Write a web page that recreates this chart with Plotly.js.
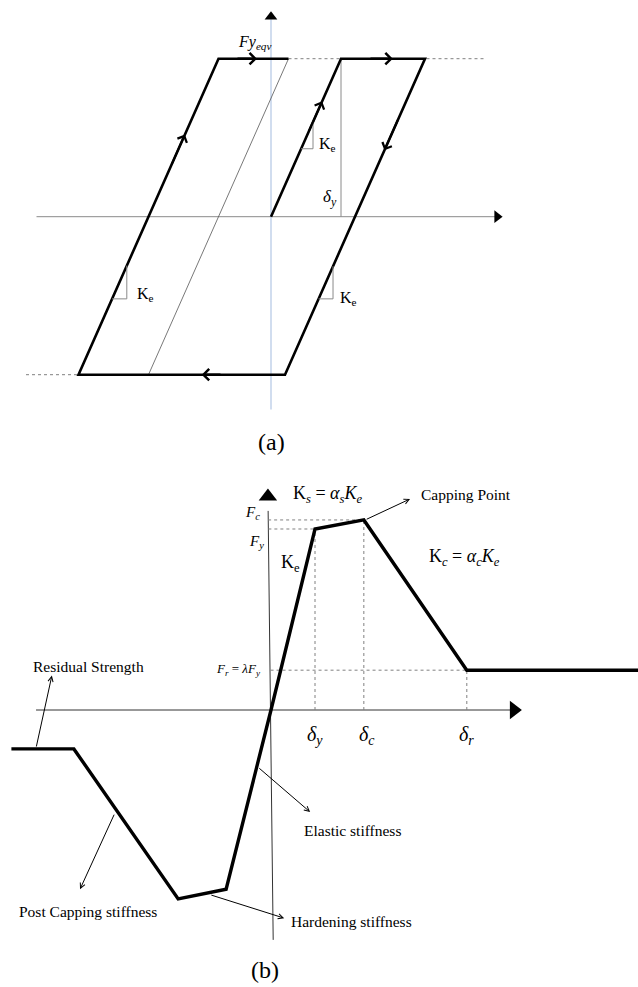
<!DOCTYPE html>
<html>
<head>
<meta charset="utf-8">
<script src="https://cdn.plot.ly/plotly-3.0.1.min.js"></script>
<style>
  html, body { margin: 0; padding: 0; background: #fff; }
  #chart { width: 638px; height: 987px; }
</style>
</head>
<body>
<div id="chart"></div>
<script>
// (a) bilinear hysteresis loop, in units of delta_y and Fy_eqv
const loopD = [0, 1, 2.2, 0.2, -2.75, -0.75, 0.25];
const loopF = [0, 1, 1, -1, -1, 1, 1];
const loopDiagD = [0.25, -1.75];      // thin unloading line
const loopDiagF = [1, -1];
const loopTopDotD = [0.25, 3.05];
const loopBotDotD = [-3.5, -2.75];

// (b) backbone curve, in units of delta_y and Fy
const backD = [-5.9, -4.48, -2.11, -1.02, 0, 1, 2.11, 4.45, 8.4];
const backF = [-0.215, -0.215, -1.044, -0.99, 0, 1, 1.05, 0.22, 0.22];
const dY = 1, dC = 2.11, dR = 4.45;
const fY = 1, fC = 1.05, fR = 0.22;

const W = 638, H = 987, SPLIT = 0.55;
const serif = 'Liberation Serif, Times New Roman, serif';

function xr(o, s) { return [(0 - o) / s, (W - o) / s]; }
function yr(o, s, p0, p1) { return [(o - p1) / s, (o - p0) / s]; }

function ln(xs, ys, ax, color, width, dash) {
    return {
        x: xs, y: ys, xaxis: ax[0], yaxis: ax[1], mode: 'lines',
        line: { color: color, width: width, dash: dash || 'solid' },
        hoverinfo: 'skip'
    };
}
function head(x, y, ax, sym, size) {
    return {
        x: [x], y: [y], xaxis: ax[0], yaxis: ax[1], mode: 'markers',
        marker: { symbol: sym, size: size, color: '#000' }, hoverinfo: 'skip'
    };
}

const A = ['x', 'y'], B = ['x2', 'y2'];
const grey = '#8a8a8a', dotc = '#808080';

const traces = [
    // panel (a)
    ln([-3.35, 3.22], [0, 0], A, grey, 1),
    ln([0, 0], [-1.22, 1.25], A, '#b3c6e4', 1.2),
    ln(loopTopDotD, [1, 1], A, dotc, 1, 'dot'),
    ln(loopBotDotD, [-1, -1], A, dotc, 1, 'dot'),
    ln(loopDiagD, loopDiagF, A, '#555', 0.8),
    ln([dY, dY], [0, 1], A, grey, 1),
    ln(loopD, loopF, A, '#000', 2.6),
    head(3.23, 0, A, 'triangle-right', 11),
    head(0, 1.265, A, 'triangle-up', 11),
    // panel (b)
    ln([-5.34, 5.45], [0, 0], B, '#333', 1),
    ln([0.05, -0.065], [-1.27, 1.1], B, '#333', 1),
    ln([-0.065, dC], [fC, fC], B, dotc, 1, 'dot'),
    ln([-0.06, dY], [fY, fY], B, dotc, 1, 'dot'),
    ln([-0.01, dR], [fR, fR], B, dotc, 1, 'dot'),
    ln([dY, dY], [0, fY], B, dotc, 1, 'dot'),
    ln([dC, dC], [0, fC], B, dotc, 1, 'dot'),
    ln([dR, dR], [0, fR], B, dotc, 1, 'dot'),
    ln(backD, backF, B, '#000', 3.4),
    head(5.52, 0, B, 'triangle-right', 16),
    head(-0.07, 1.18, B, 'triangle-up', 16)
];

function txt(x, y, t, ref, size, anchor, extra) {
    return Object.assign({
        x: x, y: y, xref: ref[0], yref: ref[1], text: t, showarrow: false,
        xanchor: anchor || 'center', yanchor: 'middle',
        font: { family: serif, size: size, color: '#000' }
    }, extra || {});
}
function arr(x0, y0, x1, y1, ref, hd, w, col) {
    return {
        x: x1, y: y1, ax: x0, ay: y0, xref: ref[0], yref: ref[1],
        axref: ref[0], ayref: ref[1], text: '', showarrow: true,
        arrowhead: hd, arrowsize: 1, arrowwidth: w, arrowcolor: col || '#000'
    };
}

const annotations = [
    // (a) direction arrows along the loop
    arr(-0.5, 1, -0.2, 1, A, 4, 2.2),
    arr(1.4, 1, 1.74, 1, A, 4, 2.2),
    arr(-1.43, 0.32, -1.23, 0.52, A, 4, 2),
    arr(0.53, 0.53, 0.73, 0.73, A, 4, 2),
    arr(1.82, 0.62, 1.62, 0.42, A, 4, 2),
    arr(-0.7, -1, -0.99, -1, A, 4, 2.2),
    txt(-0.24, 1.1, '<i>Fy</i><sub><i>eqv</i></sub>', A, 16),
    txt(-1.94, -0.49, 'K<sub>e</sub>', A, 16, 'left'),
    txt(0.66, 0.46, 'K<sub>e</sub>', A, 16, 'left'),
    txt(0.95, -0.52, 'K<sub>e</sub>', A, 16, 'left'),
    txt(0.84, 0.12, '<i>δ</i><sub><i>y</i></sub>', A, 17),
    txt(0.425, 1 - 442 / H, '(a)', ['paper', 'paper'], 24),
    // (b) labels
    txt(-0.41, 1.09, '<i>F</i><sub><i>c</i></sub>', B, 15),
    txt(-0.34, 0.93, '<i>F</i><sub><i>y</i></sub>', B, 15),
    txt(0.45, 0.81, 'K<sub>e</sub>', B, 18),
    txt(1.28, 1.19, 'K<sub><i>s</i></sub> = <i>α</i><sub><i>s</i></sub><i>K</i><sub><i>e</i></sub>', B, 18),
    txt(3.36, 1.19, 'Capping Point', B, 15.5, 'left'),
    arr(2.14, 1.05, 3.16, 1.166, B, 5, 1),
    txt(4.4, 0.84, 'K<sub><i>c</i></sub> = <i>α</i><sub><i>c</i></sub><i>K</i><sub><i>e</i></sub>', B, 18),
    txt(-0.18, 0.225, '<i>F</i><sub><i>r</i></sub> = <i>λF</i><sub><i>y</i></sub>', B, 13, 'right'),
    txt(dY, -0.14, '<i>δ</i><sub><i>y</i></sub>', B, 20),
    txt(dC + 0.07, -0.14, '<i>δ</i><sub><i>c</i></sub>', B, 20),
    txt(dR, -0.14, '<i>δ</i><sub><i>r</i></sub>', B, 20),
    txt(-5.45, 0.24, 'Residual Strength', B, 15.5, 'left'),
    arr(-5.34, -0.21, -4.98, 0.19, B, 5, 1),
    txt(-4.16, -1.115, 'Post Capping stiffness', B, 15.5),
    arr(-3.55, -0.57, -4.34, -0.99, B, 5, 1),
    txt(1.86, -0.663, 'Elastic stiffness', B, 15.5),
    arr(-0.3, -0.315, 0.89, -0.564, B, 5, 1),
    txt(1.84, -1.17, 'Hardening stiffness', B, 15.5),
    arr(-1.39, -1.02, 0.3, -1.15, B, 5, 1),
    txt(265 / W, 1 - 970 / H, '(b)', ['paper', 'paper'], 24)
];

// small slope triangles for K_e in panel (a)
function slope(x0, y0, x1, y1) {
    return {
        type: 'path', xref: 'x', yref: 'y',
        path: 'M' + x0 + ',' + y0 + ' L' + x1 + ',' + y0 + ' L' + x1 + ',' + y1,
        line: { color: '#8a8a8a', width: 1 }
    };
}
const shapes = [
    slope(-2.27, -0.52, -2.06, -0.31),
    slope(0.43, 0.43, 0.6, 0.6),
    slope(0.68, -0.52, 0.886, -0.314)
];

const hidden = { visible: false, showgrid: false, zeroline: false, fixedrange: true };

Plotly.newPlot('chart', traces, {
    width: W, height: H,
    margin: { l: 0, r: 0, t: 0, b: 0 },
    paper_bgcolor: '#fff', plot_bgcolor: '#fff',
    showlegend: false,
    xaxis: Object.assign({ domain: [0, 1], range: xr(271, 70) }, hidden),
    yaxis: Object.assign({ domain: [SPLIT, 1], range: yr(216.7, 158, 0, H * (1 - SPLIT)) }, hidden),
    xaxis2: Object.assign({ domain: [0, 1], range: xr(271, 44), anchor: 'y2' }, hidden),
    yaxis2: Object.assign({ domain: [0, SPLIT], range: yr(710, 181, H * (1 - SPLIT), H), anchor: 'x2' }, hidden),
    annotations: annotations,
    shapes: shapes
}, { displayModeBar: false, staticPlot: true });
</script>
</body>
</html>
